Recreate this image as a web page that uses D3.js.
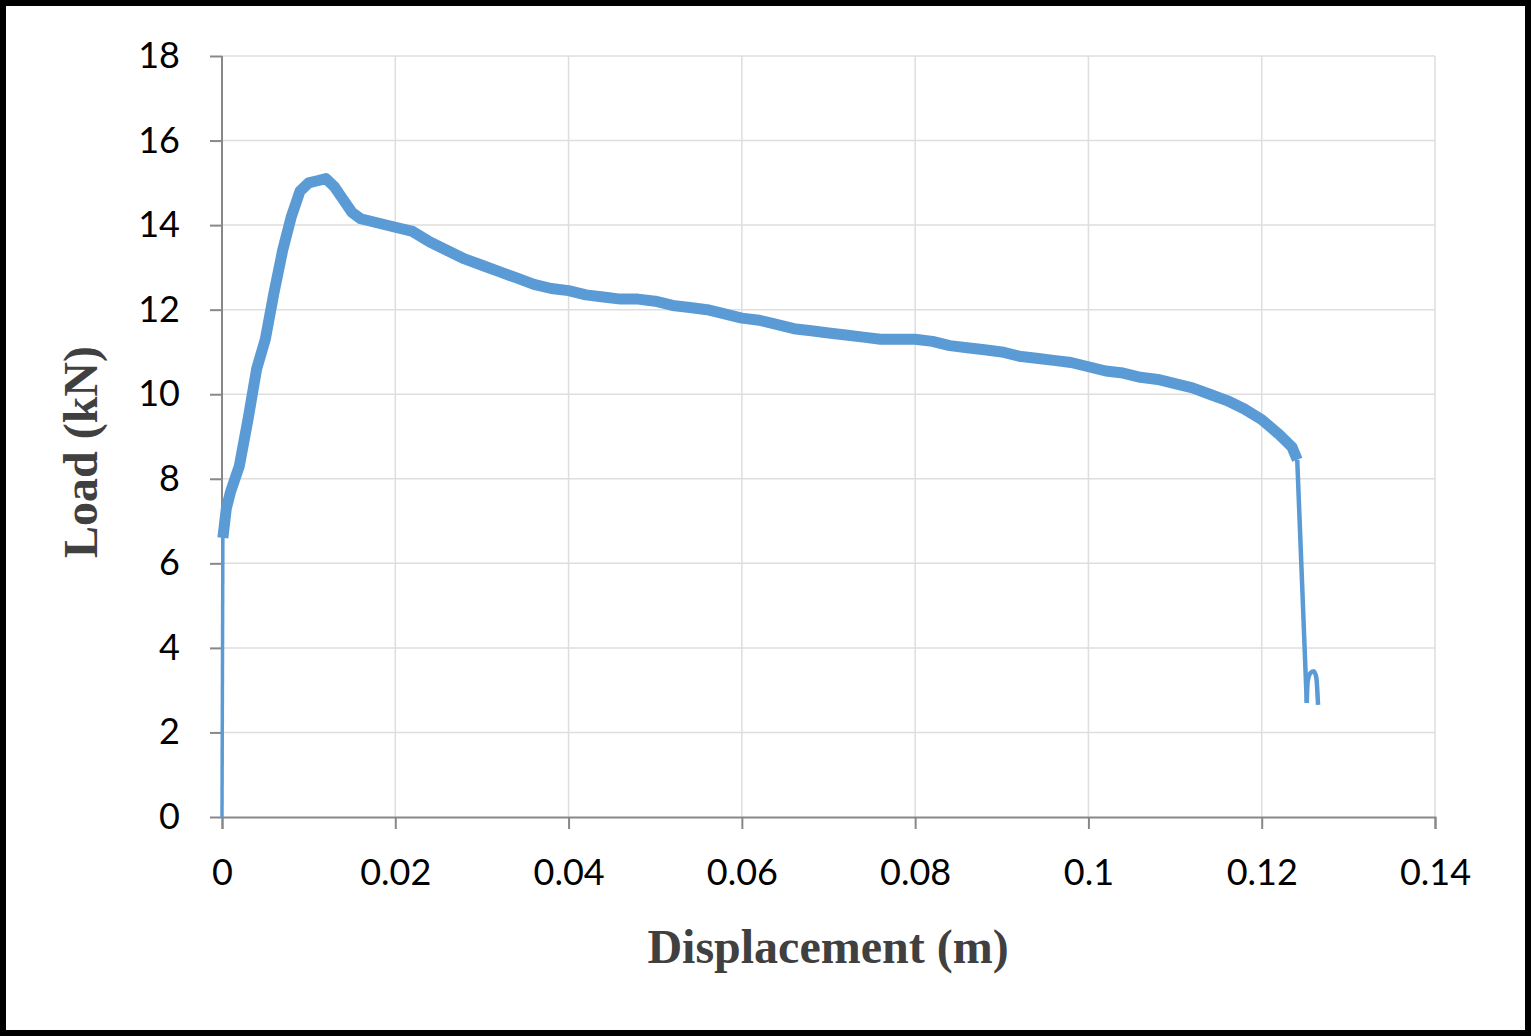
<!DOCTYPE html>
<html><head><meta charset="utf-8">
<script src="https://cdn.jsdelivr.net/npm/d3@7"></script>
<style>body{margin:0;background:#fff}</style>
</head><body>
<script>
// load vs displacement
var dispMain = [0,0.0001,0.0005,0.001,0.002,0.003,0.004,0.005,0.006,0.007,0.008,0.009,0.010,0.011,0.012,0.013,0.014,0.015,0.016,0.018,0.020,0.022,0.024,0.026,0.028,0.030,0.032,0.034,0.036,0.038,0.040,0.042,0.044,0.046,0.048,0.050,0.052,0.054,0.056,0.058,0.060,0.062,0.064,0.066,0.068,0.070,0.072,0.074,0.076,0.078,0.080,0.082,0.084,0.086,0.088,0.090,0.092,0.094,0.096,0.098,0.100,0.102,0.104,0.106,0.108,0.110,0.112,0.114,0.116,0.118,0.120,0.122,0.1235,0.1241];
var loadMain = [0,6.6,7.3,7.7,8.3,9.4,10.6,11.3,12.4,13.4,14.2,14.8,15.0,15.05,15.1,14.9,14.6,14.3,14.15,14.05,13.95,13.85,13.6,13.4,13.2,13.05,12.9,12.75,12.6,12.5,12.45,12.35,12.3,12.25,12.25,12.2,12.1,12.05,12.0,11.9,11.8,11.75,11.65,11.55,11.5,11.45,11.4,11.35,11.3,11.3,11.3,11.25,11.15,11.1,11.05,11.0,10.9,10.85,10.8,10.75,10.65,10.55,10.5,10.4,10.35,10.25,10.15,10.0,9.85,9.65,9.4,9.05,8.75,8.45];
var dispTail = [0.1241,0.1252,0.1253,0.1256,0.1260,0.1263,0.1265];
var loadTail = [8.45,2.7,3.2,3.4,3.45,3.3,2.65];
var xTicks = [0,0.02,0.04,0.06,0.08,0.1,0.12,0.14];
var yTicks = [0,2,4,6,8,10,12,14,16,18];

var W = 1531, H = 1036;
var svg = d3.select("body").append("svg").attr("width", W).attr("height", H);
svg.append("rect").attr("x", 3).attr("y", 3).attr("width", W - 6).attr("height", H - 6)
  .attr("fill", "#fff").attr("stroke", "#000").attr("stroke-width", 6);

var x = d3.scaleLinear().domain([0, 0.14]).range([222, 1435]);
var y = d3.scaleLinear().domain([0, 18]).range([817, 56]);

// gridlines
svg.append("g").selectAll("line").data(yTicks.slice(1)).join("line")
  .attr("x1", 222).attr("x2", 1435).attr("y1", d => y(d)).attr("y2", d => y(d))
  .attr("stroke", "#dedede").attr("stroke-width", 1.5);
svg.append("g").selectAll("line").data(xTicks.slice(1)).join("line")
  .attr("y1", 56).attr("y2", 817).attr("x1", d => x(d)).attr("x2", d => x(d))
  .attr("stroke", "#dedede").attr("stroke-width", 1.5);

// axes
var xAxis = svg.append("g").attr("transform", "translate(0,817)")
  .call(d3.axisBottom(x).tickValues(xTicks).tickFormat(d => String(+d.toFixed(2))).tickSizeOuter(0).tickSize(12).tickPadding(30));
var yAxis = svg.append("g").attr("transform", "translate(222,0)")
  .call(d3.axisLeft(y).tickValues(yTicks).tickSizeOuter(0).tickSize(12).tickPadding(30));
[xAxis, yAxis].forEach(a => {
  a.selectAll("path,line").attr("stroke", "#888").attr("stroke-width", 2);
  a.selectAll("text").attr("font-family", "Lato, 'Open Sans', sans-serif").attr("font-size", 36).attr("fill", "#000");
});
yAxis.select(".domain").attr("d", "M0,817V56");

// series
var line = d3.line().x(d => x(d[0])).y(d => y(d[1]));
var main = d3.zip(dispMain, loadMain);
svg.append("path").attr("d", line(main.slice(1))).attr("fill", "none")
  .attr("stroke", "#5b9bd5").attr("stroke-width", 11).attr("stroke-linejoin", "round");
svg.append("path").attr("d", line(main.slice(0, 2))).attr("fill", "none")
  .attr("stroke", "#5b9bd5").attr("stroke-width", 3.5);
svg.append("path").attr("d", d3.line().curve(d3.curveMonotoneX).x(d => x(d[0])).y(d => y(d[1]))(d3.zip(dispTail.slice(1), loadTail.slice(1))))
  .attr("fill", "none").attr("stroke", "#5b9bd5").attr("stroke-width", 4.5);
svg.append("path").attr("d", line(d3.zip(dispTail.slice(0, 2), loadTail.slice(0, 2))))
  .attr("fill", "none").attr("stroke", "#5b9bd5").attr("stroke-width", 4.5);

// titles
svg.append("text").attr("x", 828).attr("y", 963).attr("text-anchor", "middle")
  .attr("font-family", "'Liberation Serif', serif").attr("font-weight", "bold")
  .attr("font-size", 48).attr("fill", "#404040").text("Displacement  (m)");
svg.append("text").attr("transform", "translate(97,452) rotate(-90)").attr("text-anchor", "middle")
  .attr("font-family", "'Liberation Serif', serif").attr("font-weight", "bold")
  .attr("font-size", 48).attr("fill", "#404040").text("Load (kN)");
</script>
</body></html>
